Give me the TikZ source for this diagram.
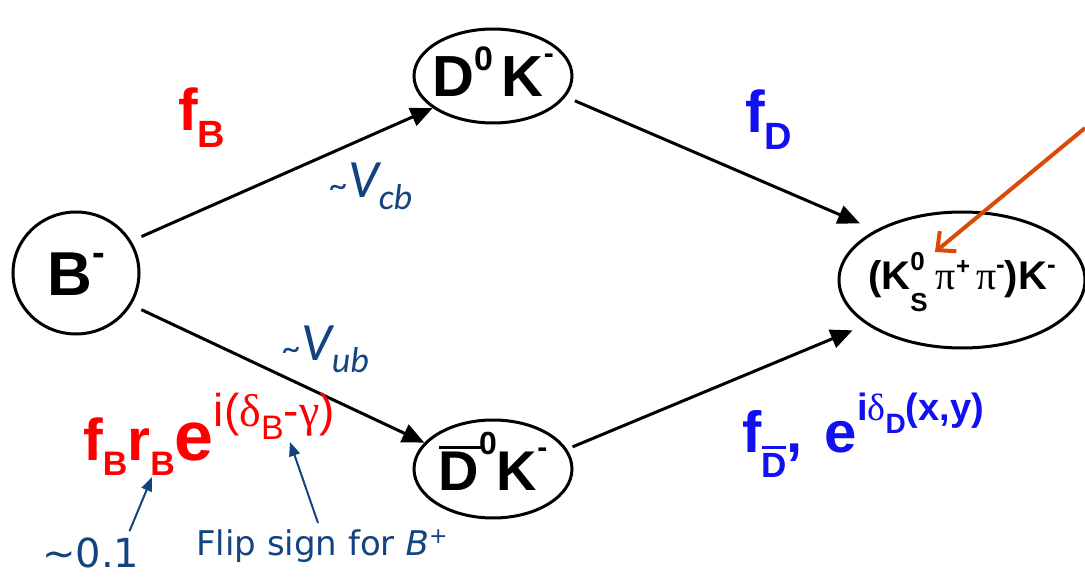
\documentclass[tikz,border=0pt]{standalone}
\usepackage{fontspec}
\setmainfont{Liberation Sans}
\newfontfamily\calfont{Carlito}
\newfontfamily\verfont{DejaVu Sans}
\newfontfamily\serfont{Liberation Serif}
\usetikzlibrary{shapes.geometric,arrows.meta}
\definecolor{ckmblue}{RGB}{20,68,128}
\definecolor{ampred}{RGB}{255,0,0}
\definecolor{ampblue}{RGB}{16,16,240}
\definecolor{kscol}{RGB}{218,74,8}
\newcommand\fs[1]{\fontsize{#1}{#1}\selectfont}
\newcommand\upr[3]{\raisebox{#1pt}{\fs{#2}#3}}
\newcommand\lowr[3]{\raisebox{-#1pt}{\fs{#2}#3}}
\newcommand\barred[3]{\makebox[0pt][l]{\rule[#1pt]{#2pt}{#3pt}}}

\begin{document}
\begin{tikzpicture}[x=1pt,y=-1pt]
        \tikzstyle{state}=[ellipse, draw, line width=3pt, inner sep=0pt, inner xsep=-16pt, font=\bfseries, text height=44pt, text depth=2pt]
        \tikzstyle{flow}=[line width=3pt, -{Triangle[length=22pt,width=19pt]}]
        \tikzstyle{note}=[line width=2pt, ckmblue, -{Triangle[length=14pt,width=11pt]}]
        \tikzstyle{amp}=[anchor=base west, inner sep=0pt, font=\bfseries]
        \tikzstyle{remark}=[anchor=base west, inner sep=0pt, ckmblue]

        \useasboundingbox (0,0) rectangle (1085,580);

        \node[state, inner xsep=0pt, minimum width=126pt, minimum height=122pt, text height=44pt, text depth=0pt] (b) at (76,273) {\fs{62}B\upr{30}{38}{-}};
        \node[state, minimum width=158pt, minimum height=94pt] (dk) at (493,76) {\fs{58}D\upr{26}{34}{0}\hspace{9pt}K\upr{33}{30}{-}};
        \node[state, minimum width=158pt, minimum height=98pt] (dbk) at (493,469) {\fs{56}\barred{41}{44}{3}D\upr{36}{32}{0}K\upr{33}{30}{-}};
        \node[state, minimum width=246pt, minimum height=136pt, inner xsep=-45pt, text height=30pt, text depth=10pt] (fin) at (962,280)
            {\fs{40}(K\rlap{\upr{19}{26}{0}}\lowr{22}{26}{S}\hspace{8pt}{\serfont\mdseries π}\upr{15}{24}{+}\hspace{6pt}{\serfont\mdseries π}\upr{17}{26}{-})K\upr{17}{26}{-}};

        \draw[flow, shorten <=11pt] (b.30) -- (dk.208);
        \draw[flow, shorten <=11pt] (b.-30) -- (dbk.159);
        \draw[flow, shorten <=10pt, shorten >=17pt] (dk.-16) -- (fin.150);
        \draw[flow, shorten <=6pt, shorten >=15pt] (dbk.15) -- (fin.205);

        \node[amp, ampred] (fb) at (178,131) {\fs{59}f\lowr{17}{38}{B}};
        \node[amp, ampblue] (fd) at (745,133) {\fs{59}f\lowr{17}{38}{D}};
        \node[remark, font=\calfont\itshape] (vcb) at (330,198) {{\fs{36}\textasciitilde}\fs{54}V\lowr{12}{36}{cb}};
        \node[remark, font=\calfont\itshape] (vub) at (283,360) {{\fs{36}\textasciitilde}\fs{54}V\lowr{12}{36}{ub}};

        \node[amp, ampred] (ampb) at (83,460)
            {\fs{59}f\lowr{15}{34}{B}r\lowr{15}{34}{B}{\fs{70}e}\upr{34}{46}{\mdseries i({\serfont δ}\lowr{13}{34}{B}-{\serfont γ})}};
        \node[amp, ampblue] (ampd) at (742,452)
            {\fs{58}f\lowr{25}{35}{\barred{28}{24}{3}D},\hspace{22pt}e\upr{32}{38}{i{\serfont\mdseries δ}\lowr{13}{28}{D}(x,y)}};

        \node[remark, font=\verfont] (flip) at (196,555) {\fs{34}Flip sign for \textit{B}\upr{12}{22}{+}};
        \node[remark, font=\verfont, text depth=0pt] (rb) at (42,567) {\fs{40}\textasciitilde 0.1};

        \coordinate (rbtip) at (152,477);
        \coordinate (gamtip) at (290,442);
        \coordinate (src) at (1085,128);
        \coordinate (kstip) at (935,252);

        \draw[note] ([xshift=-10pt,yshift=6pt]rb.north east) -- (rbtip);
        \draw[note] ([xshift=122pt,yshift=6pt]flip.north west) -- (gamtip);
        \draw[line width=4pt, kscol, -{Straight Barb[length=14pt,width=26pt]}] (src) -- (kstip);
    \end{tikzpicture}
\end{document}
